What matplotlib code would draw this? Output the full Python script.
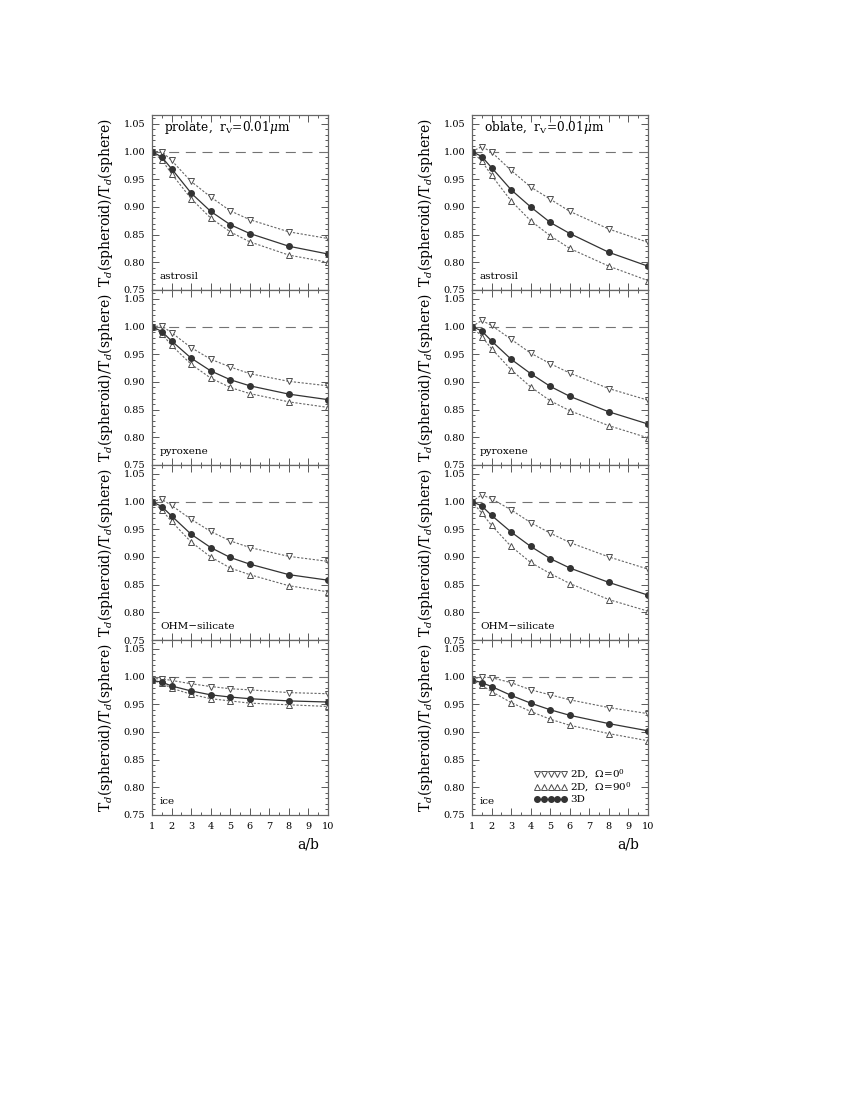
import matplotlib.pyplot as plt
from matplotlib.ticker import MultipleLocator, FormatStrFormatter
from matplotlib.lines import Line2D

plt.rcParams['font.family'] = 'DejaVu Serif'
plt.rcParams['mathtext.fontset'] = 'dejavuserif'

# --- data ---
ab = [1, 1.5, 2, 3, 4, 5, 6, 8, 10]

materials = ['astrosil', 'pyroxene', 'OHM\u2212silicate', 'ice']
shapes = ['prolate', 'oblate']

# prolate: 2D Omega=0 (down tri), 2D Omega=90 (up tri), 3D (filled circles)
pro_astrosil_v = [1.000, 1.000, 0.984, 0.946, 0.918, 0.893, 0.877, 0.855, 0.843]
pro_astrosil_c = [1.000, 0.990, 0.969, 0.925, 0.892, 0.868, 0.852, 0.829, 0.815]
pro_astrosil_a = [1.000, 0.985, 0.960, 0.915, 0.880, 0.855, 0.837, 0.813, 0.800]

pro_pyroxene_v = [1.000, 1.001, 0.989, 0.962, 0.941, 0.927, 0.915, 0.901, 0.893]
pro_pyroxene_c = [1.000, 0.991, 0.974, 0.943, 0.920, 0.904, 0.893, 0.878, 0.868]
pro_pyroxene_a = [1.000, 0.987, 0.966, 0.932, 0.907, 0.890, 0.879, 0.864, 0.854]

pro_ohm_v = [1.000, 1.004, 0.993, 0.968, 0.946, 0.929, 0.917, 0.901, 0.892]
pro_ohm_c = [1.000, 0.991, 0.974, 0.941, 0.917, 0.899, 0.887, 0.868, 0.858]
pro_ohm_a = [1.000, 0.985, 0.964, 0.927, 0.900, 0.880, 0.868, 0.848, 0.837]

pro_ice_v = [0.996, 0.996, 0.993, 0.987, 0.982, 0.978, 0.976, 0.971, 0.969]
pro_ice_c = [0.993, 0.990, 0.983, 0.974, 0.967, 0.963, 0.960, 0.956, 0.954]
pro_ice_a = [0.993, 0.988, 0.979, 0.968, 0.960, 0.956, 0.952, 0.949, 0.946]

# oblate
obl_astrosil_v = [1.000, 1.009, 0.999, 0.966, 0.936, 0.914, 0.892, 0.860, 0.836]
obl_astrosil_c = [1.000, 0.991, 0.971, 0.931, 0.900, 0.872, 0.852, 0.818, 0.793]
obl_astrosil_a = [1.000, 0.983, 0.957, 0.911, 0.875, 0.848, 0.825, 0.793, 0.767]

obl_pyroxene_v = [1.000, 1.011, 1.002, 0.977, 0.952, 0.933, 0.916, 0.888, 0.867]
obl_pyroxene_c = [1.000, 0.992, 0.974, 0.941, 0.915, 0.892, 0.874, 0.846, 0.824]
obl_pyroxene_a = [1.000, 0.982, 0.960, 0.922, 0.891, 0.866, 0.848, 0.821, 0.799]

obl_ohm_v = [1.000, 1.012, 1.005, 0.985, 0.962, 0.943, 0.926, 0.900, 0.878]
obl_ohm_c = [1.000, 0.992, 0.975, 0.945, 0.919, 0.897, 0.880, 0.854, 0.831]
obl_ohm_a = [1.000, 0.979, 0.957, 0.919, 0.890, 0.870, 0.852, 0.823, 0.802]

obl_ice_v = [0.996, 0.999, 0.998, 0.989, 0.976, 0.967, 0.958, 0.944, 0.933]
obl_ice_c = [0.994, 0.989, 0.982, 0.966, 0.952, 0.940, 0.930, 0.915, 0.902]
obl_ice_a = [0.994, 0.984, 0.973, 0.953, 0.937, 0.923, 0.912, 0.897, 0.884]

prolate = [(pro_astrosil_v, pro_astrosil_a, pro_astrosil_c),
           (pro_pyroxene_v, pro_pyroxene_a, pro_pyroxene_c),
           (pro_ohm_v, pro_ohm_a, pro_ohm_c),
           (pro_ice_v, pro_ice_a, pro_ice_c)]
oblate = [(obl_astrosil_v, obl_astrosil_a, obl_astrosil_c),
          (obl_pyroxene_v, obl_pyroxene_a, obl_pyroxene_c),
          (obl_ohm_v, obl_ohm_a, obl_ohm_c),
          (obl_ice_v, obl_ice_a, obl_ice_c)]

ylabel = r'T$_d$(spheroid)/T$_d$(sphere)'


def style_axis(ax, bottom):
    '''ticks, limits and labels of one panel'''
    ax.set_xlim(1, 10)
    ax.set_ylim(0.75, 1.066)
    ax.xaxis.set_major_locator(MultipleLocator(1))
    ax.xaxis.set_minor_locator(MultipleLocator(0.5))
    ax.yaxis.set_major_locator(MultipleLocator(0.05))
    ax.yaxis.set_minor_locator(MultipleLocator(0.01))
    ax.yaxis.set_major_formatter(FormatStrFormatter('%.2f'))
    ax.tick_params(which='both', direction='in', top=True, right=True,
                   labelsize=7, color='0.35', width=0.7)
    ax.tick_params(which='major', length=5, pad=5)
    ax.tick_params(which='minor', length=2.5)
    for s in ax.spines.values():
        s.set_color('0.4')
        s.set_linewidth(0.9)
    ax.set_ylabel(ylabel, fontsize=10, labelpad=6)
    if bottom:
        ax.set_xlabel('a/b', fontsize=10)
        ax.xaxis.set_label_coords(0.885, -0.13)
    else:
        ax.tick_params(axis='x', labelbottom=False)


def plot_panel(ax, series):
    '''three curves of one panel'''
    v, a, c = series
    ax.axhline(1.0, color='0.45', lw=0.8, dashes=(9, 6))
    ax.plot(ab, v, color='0.4', lw=0.8, ls=(0, (2, 1.5)),
            marker='v', ms=4.5, mfc='white', mec='0.3', mew=0.7)
    ax.plot(ab, a, color='0.4', lw=0.8, ls=(0, (2, 1.5)),
            marker='^', ms=4.5, mfc='white', mec='0.3', mew=0.7)
    ax.plot(ab, c, color='0.2', lw=0.9, ls='-',
            marker='o', ms=4, mfc='0.2', mec='0.2')


fig = plt.figure(figsize=(8.5, 11), dpi=100)

lefts = [152 / 850, 472 / 850]
width = 176 / 850
top = 115 / 1100
panel_h = 175 / 1100

for col, (shape, data) in enumerate(zip(shapes, [prolate, oblate])):
    for row in range(4):
        bottom_pos = 1 - top - (row + 1) * panel_h
        ax = fig.add_axes([lefts[col], bottom_pos, width, panel_h])
        plot_panel(ax, data[row])
        style_axis(ax, row == 3)
        ax.text(0.045, 0.05, materials[row], transform=ax.transAxes,
                fontsize=7.5, ha='left', va='bottom')
        if row == 0:
            ax.text(0.07, 0.93, shape + r',  r$_{\rm V}$=0.01$\mu$m',
                    transform=ax.transAxes, fontsize=8.7, ha='left', va='center')
        if col == 1 and row == 3:
            handles = [
                Line2D([], [], ls='none', marker='v', ms=4, mfc='white',
                       mec='0.3', mew=0.7),
                Line2D([], [], ls='none', marker='^', ms=4, mfc='white',
                       mec='0.3', mew=0.7),
                Line2D([], [], ls='-', color='0.2', lw=0.9, marker='o',
                       ms=4, mfc='0.2', mec='0.2'),
            ]
            labels = [r'2D,  $\Omega$=0$^0$', r'2D,  $\Omega$=90$^0$', '3D']
            ax.legend(handles, labels, loc='lower left',
                      bbox_to_anchor=(0.31, 0.02), frameon=False,
                      numpoints=5, handlelength=3.2, handletextpad=0.3,
                      labelspacing=0.05, fontsize=7.5, borderpad=0.2)

fig.savefig('out.png', dpi=100)
